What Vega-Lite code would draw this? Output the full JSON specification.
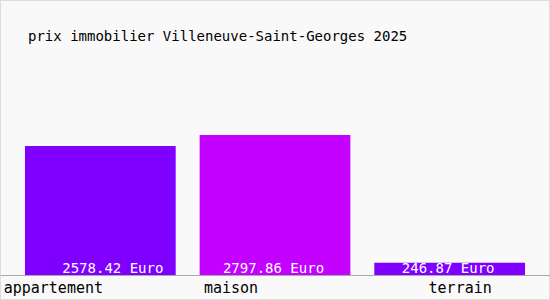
{
  "$schema": "https://vega.github.io/schema/vega-lite/v6.json",
  "width": 550,
  "height": 300,
  "padding": 0,
  "autosize": {"type": "none"},
  "background": "#f9f9f9",
  "config": {
    "view": {"stroke": "#dddddd", "strokeWidth": 2},
    "font": "DejaVu Sans Mono"
  },
  "title": {
    "text": "prix immobilier Villeneuve-Saint-Georges 2025",
    "anchor": "start",
    "frame": "group",
    "orient": "top",
    "offset": -55,
    "baseline": "alphabetic",
    "dx": 28,
    "font": "DejaVu Sans Mono",
    "fontSize": 14,
    "fontWeight": "normal",
    "color": "#000000"
  },
  "data": {
    "values": [
      {"type": "appartement", "prix": 2578.42},
      {"type": "maison", "prix": 2797.86},
      {"type": "terrain", "prix": 246.87}
    ]
  },
  "transform": [{"calculate": "datum.prix + ' Euro'", "as": "label"}],
  "encoding": {
    "x": {
      "field": "type",
      "type": "nominal",
      "sort": null,
      "scale": {"paddingInner": 0.137, "paddingOuter": 0.143},
      "axis": {
        "title": null,
        "labelAngle": 0,
        "ticks": false,
        "domainColor": "#aaaaaa",
        "domainWidth": 1,
        "offset": -25,
        "labelFont": "DejaVu Sans Mono",
        "labelFontSize": 15,
        "labelColor": "#000000",
        "labelPadding": 5,
        "labelOffset": {
          "condition": [
            {"test": "datum.value == 'appartement'", "value": -47},
            {"test": "datum.value == 'maison'", "value": -44}
          ],
          "value": 10.5
        }
      }
    }
  },
  "layer": [
    {
      "mark": {"type": "bar"},
      "encoding": {
        "y": {
          "field": "prix",
          "type": "quantitative",
          "scale": {"domain": [0, 5500], "range": [275, 0]},
          "axis": null
        },
        "color": {
          "field": "type",
          "type": "nominal",
          "scale": {
            "domain": ["appartement", "maison", "terrain"],
            "range": ["#8000ff", "#c400ff", "#7f00ff"]
          },
          "legend": null
        }
      }
    },
    {
      "mark": {
        "type": "text",
        "baseline": "alphabetic",
        "align": "center",
        "dy": -2,
        "dx": {"expr": "datum.type == 'appartement' ? 12.5 : -1.5"},
        "font": "DejaVu Sans Mono",
        "fontSize": 14,
        "color": "#ffffff"
      },
      "encoding": {
        "y": {"datum": 0, "type": "quantitative"},
        "text": {"field": "label"}
      }
    }
  ]
}
